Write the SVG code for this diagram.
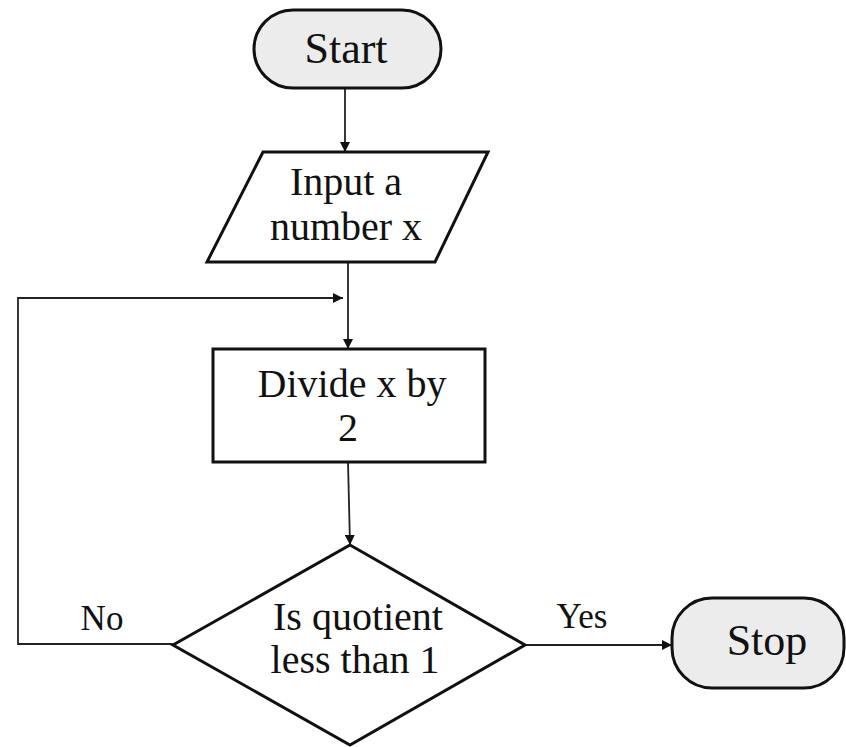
<svg xmlns="http://www.w3.org/2000/svg" width="846" height="747" viewBox="0 0 846 747">
  <defs>
    <marker id="arrow" viewBox="0 0 10 10" refX="10" refY="5" markerWidth="10" markerHeight="10" markerUnits="userSpaceOnUse" orient="auto">
      <path d="M0,0 L10,5 L0,10 Z" fill="#111"/>
    </marker>
    <style>
      .shape { stroke: #111; stroke-width: 3; fill: #ffffff; }
      .term { fill: #ececec; }
      .conn { stroke: #222; stroke-width: 1.8; fill: none; }
      .txt { font-family: "Liberation Serif", "Times New Roman", serif; font-size: 40px; fill: #111; text-anchor: middle; }
      .big { font-size: 44px; }
      .lbl { font-family: "Liberation Serif", "Times New Roman", serif; font-size: 35px; fill: #111; text-anchor: middle; }
    </style>
  </defs>
  <rect width="846" height="747" fill="#ffffff"/>

  <g id="connectors">
    <path class="conn" d="M345,88 L345,152" marker-end="url(#arrow)"/>
    <path class="conn" d="M348,262 L348,349" marker-end="url(#arrow)"/>
    <path class="conn" d="M348,462 L350,545" marker-end="url(#arrow)"/>
    <path class="conn" d="M173,644 L18,644 L18,298 L343,298" marker-end="url(#arrow)"/>
    <path class="conn" d="M525,645 L672,645" marker-end="url(#arrow)"/>
    <text class="lbl" x="102" y="630">No</text>
    <text class="lbl" x="582" y="628">Yes</text>
  </g>

  <g id="start">
    <rect class="shape term" x="254" y="10" width="187" height="78" rx="39" ry="39"/>
    <text class="txt big" x="346" y="63">Start</text>
  </g>

  <g id="input">
    <polygon class="shape" points="263,152 488,152 435,262 207,262"/>
    <text class="txt" x="346" y="195">Input a</text>
    <text class="txt" x="346" y="240">number x</text>
  </g>

  <g id="divide">
    <rect class="shape" x="213" y="349" width="272" height="113"/>
    <text class="txt" x="352" y="397">Divide x by</text>
    <text class="txt" x="348" y="441">2</text>
  </g>

  <g id="decision">
    <polygon class="shape" points="350,545 525,645 350,745 173,645"/>
    <text class="txt" x="358" y="630">Is quotient</text>
    <text class="txt" x="355" y="673">less than 1</text>
  </g>

  <g id="stop">
    <rect class="shape term" x="672" y="598" width="172" height="90" rx="40" ry="40"/>
    <text class="txt big" x="767" y="655">Stop</text>
  </g>
</svg>
